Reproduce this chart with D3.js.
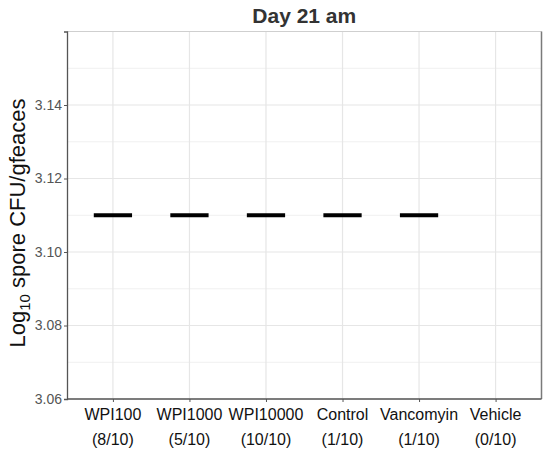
<!DOCTYPE html>
<html><head><meta charset="utf-8">
<script src="https://cdn.jsdelivr.net/npm/d3@7"></script>
<style>body{margin:0;background:#fff}svg{display:block}</style>
</head><body>
<script>
const categories = ["WPI100","WPI1000","WPI10000","Control","Vancomyin","Vehicle"];
const counts = ["(8/10)","(5/10)","(10/10)","(1/10)","(1/10)","(0/10)"];
const means = [3.11, 3.11, 3.11, 3.11, 3.11, null];
const yTicks = [3.06, 3.08, 3.10, 3.12, 3.14];
const yMinor = [3.07, 3.09, 3.11, 3.13, 3.15];
const title = "Day 21 am";

const W = 550, H = 458;
const m = {left: 67, right: 8.5, top: 31.5, bottom: 59};
const pw = W - m.left - m.right, ph = H - m.top - m.bottom;
const FF = "Liberation Sans, Arial, sans-serif";
const svg = d3.select("body").append("svg").attr("width", W).attr("height", H);
const g = svg.append("g").attr("transform", `translate(${m.left},${m.top})`);

const x = d3.scalePoint().domain(categories).range([0, pw]).padding(0.6);
const y = d3.scaleLinear().domain([3.06, 3.16]).range([ph, 0]);

// grid
g.selectAll(".gminor").data(yMinor).enter().append("line")
  .attr("x1", 0).attr("x2", pw).attr("y1", d => y(d)).attr("y2", d => y(d))
  .attr("stroke", "#f0f0f0").attr("stroke-width", 1);
g.selectAll(".gmaj").data(yTicks).enter().append("line")
  .attr("x1", 0).attr("x2", pw).attr("y1", d => y(d)).attr("y2", d => y(d))
  .attr("stroke", "#e6e6e6").attr("stroke-width", 1.2);
g.selectAll(".gx").data(categories).enter().append("line")
  .attr("x1", d => x(d)).attr("x2", d => x(d)).attr("y1", 0).attr("y2", ph)
  .attr("stroke", "#e6e6e6").attr("stroke-width", 1.2);

// border
g.append("line").attr("x1", 0).attr("x2", pw).attr("y1", 0).attr("y2", 0).attr("stroke", "#cfcfcf").attr("stroke-width", 1.2);
g.append("line").attr("x1", pw).attr("x2", pw).attr("y1", 0).attr("y2", ph).attr("stroke", "#7a7a7a").attr("stroke-width", 1.5);

// mean bars
const bw = x.step() * 0.5;
g.selectAll(".mean").data(categories.map((c, i) => ({c, v: means[i]})).filter(d => d.v != null))
  .enter().append("line")
  .attr("x1", d => x(d.c) - bw / 2).attr("x2", d => x(d.c) + bw / 2)
  .attr("y1", d => y(d.v)).attr("y2", d => y(d.v))
  .attr("stroke", "#000").attr("stroke-width", 4);

// y axis
const ya = g.append("g").call(d3.axisLeft(y).tickValues(yTicks).tickFormat(d3.format(".2f")).tickSize(3).tickPadding(2));
ya.select(".domain").attr("stroke", "#555").attr("stroke-width", 1.3);
ya.selectAll(".tick line").attr("stroke", "#555");
ya.selectAll(".tick text").attr("fill", "#555").style("font-family", FF).style("font-size", "14px");

// x axis
const xa = g.append("g").attr("transform", `translate(0,${ph})`).call(d3.axisBottom(x).tickSize(3).tickFormat(""));
xa.select(".domain").attr("stroke", "#555").attr("stroke-width", 1.3).attr("d", `M0,0H${pw}`);
xa.selectAll(".tick line").attr("stroke", "#555");
const xl = g.append("g").attr("transform", `translate(0,${ph})`);
xl.selectAll(".l1").data(categories).enter().append("text")
  .attr("x", d => x(d)).attr("y", 21).attr("text-anchor", "middle")
  .style("font-family", FF).style("font-size", "16px").attr("fill", "#111")
  .text(d => d);
xl.selectAll(".l2").data(counts).enter().append("text")
  .attr("x", (d, i) => x(categories[i])).attr("y", 46).attr("text-anchor", "middle")
  .style("font-family", FF).style("font-size", "16px").attr("fill", "#111")
  .text(d => d);

// title
svg.append("text").attr("x", m.left + pw / 2).attr("y", 23).attr("text-anchor", "middle")
  .style("font-family", FF).style("font-size", "21px").style("font-weight", "bold")
  .attr("fill", "#333").text(title);

// y title
const yt = svg.append("text").attr("transform", `translate(25,${223}) rotate(-90)`)
  .attr("text-anchor", "middle")
  .style("font-family", FF).style("font-size", "22px").attr("fill", "#111");
yt.append("tspan").text("Log");
yt.append("tspan").attr("dy", 5).style("font-size", "15px").text("10");
yt.append("tspan").attr("dy", -5).text(" spore CFU/gfeaces");
</script>
</body></html>
